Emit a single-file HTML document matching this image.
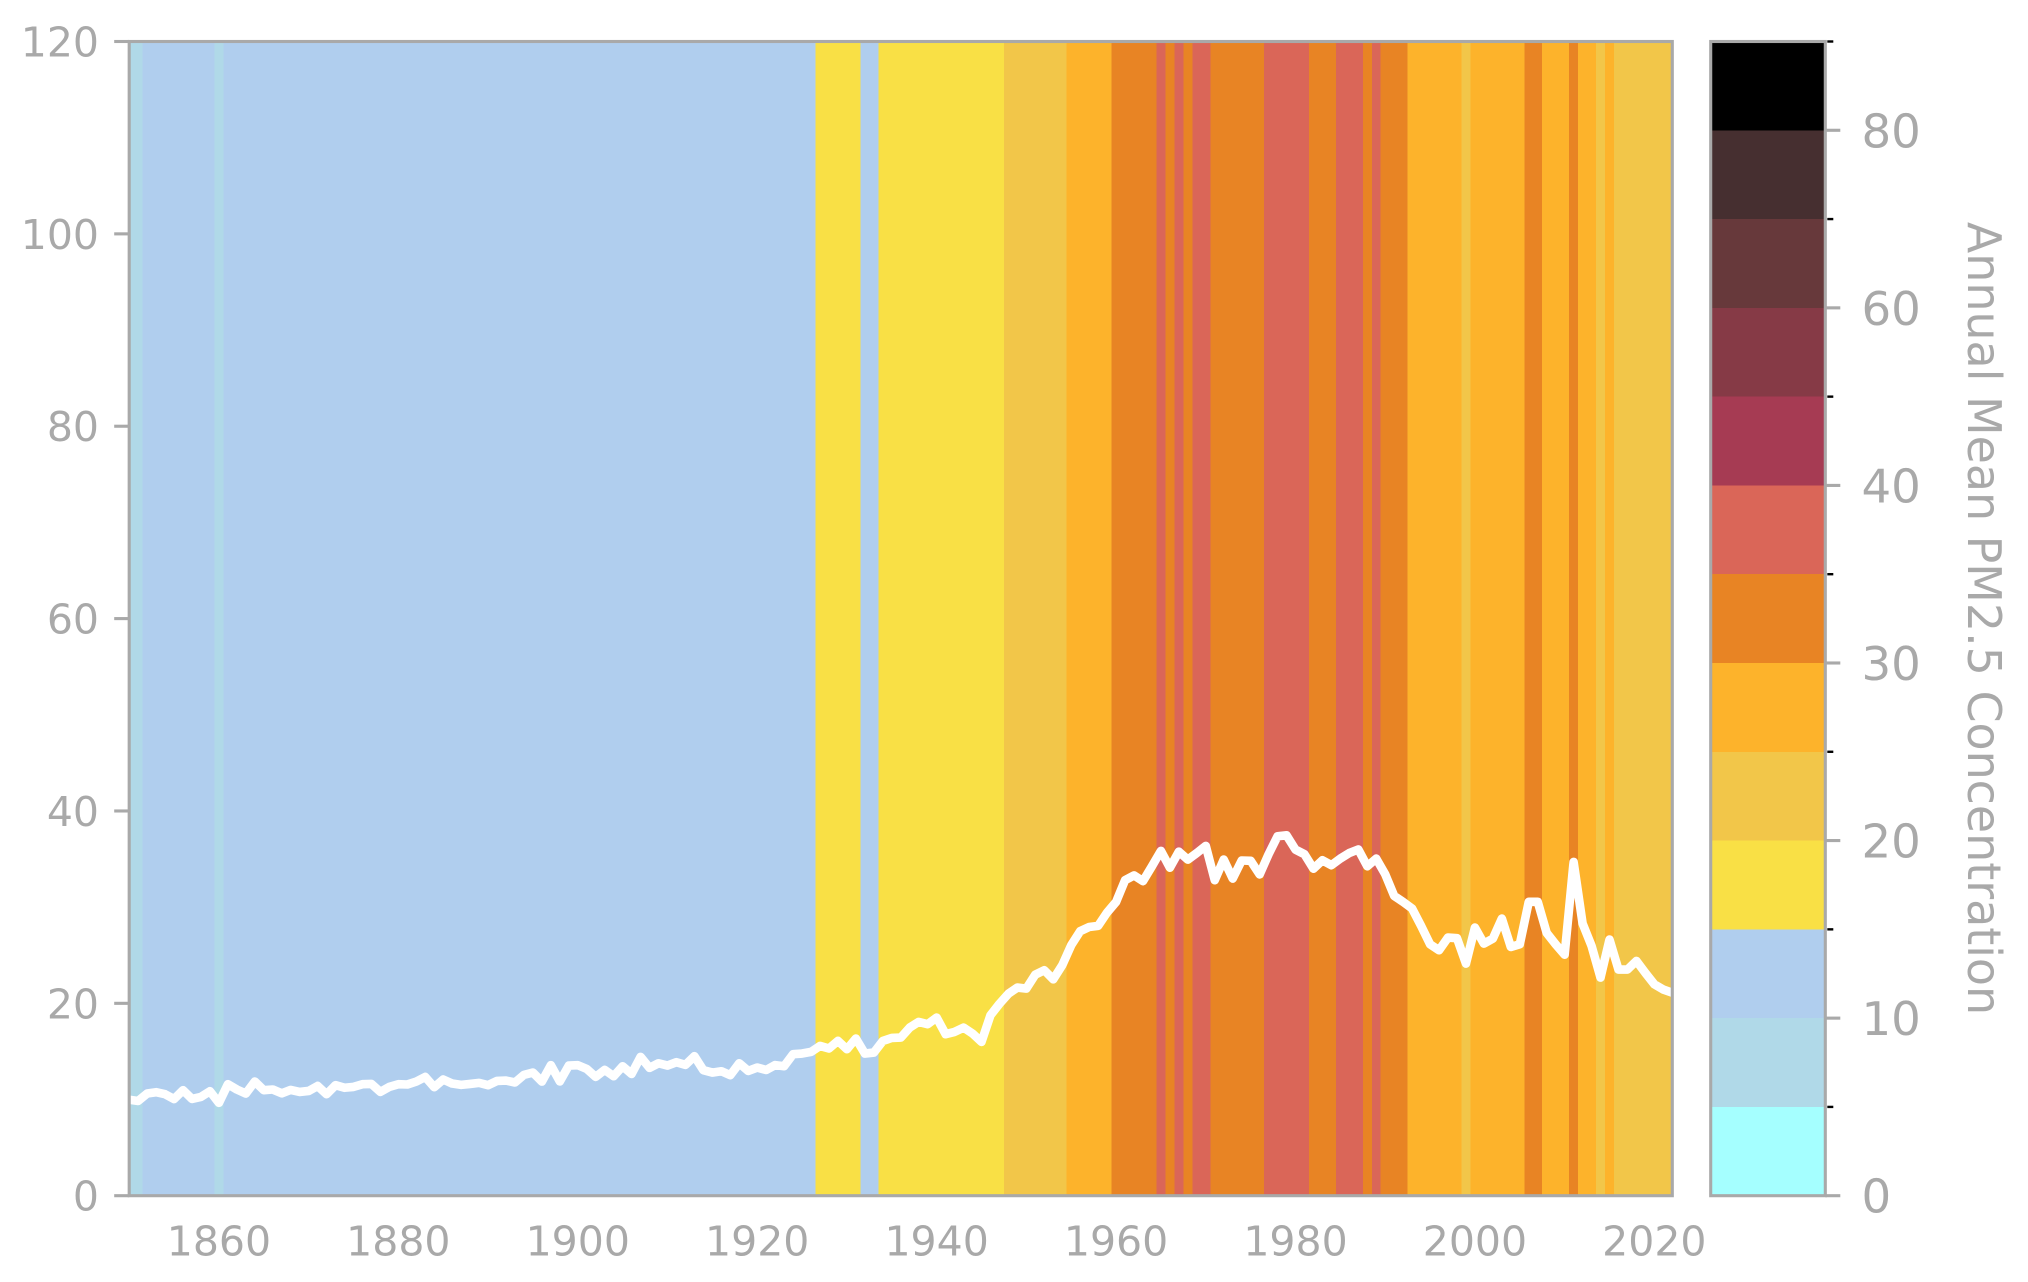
<!DOCTYPE html>
<html lang="en">
<head>
<meta charset="utf-8">
<title>Annual Mean PM2.5 Concentration warming-stripe chart</title>
<style>
html,body{margin:0;padding:0;background:#fff;}
svg{display:block;}
text{font-family:"DejaVu Sans","Liberation Sans",sans-serif;fill:#a9a9a9;}
</style>
</head>
<body>
<svg id="chart" xmlns="http://www.w3.org/2000/svg" width="2028" height="1282" viewBox="0 0 2028 1282">
  <defs>
    <clipPath id="plot-clip"><rect x="129.2" y="41.5" width="1543.1" height="1154.2"></rect></clipPath>
  </defs>
  <rect x="0" y="0" width="2028" height="1282" fill="#ffffff"></rect>
  <g id="bands" clip-path="url(#plot-clip)" shape-rendering="crispEdges"></g>
  <path id="pm25-line" clip-path="url(#plot-clip)" fill="none" stroke="#ffffff" stroke-width="8.6" stroke-linejoin="round"></path>
  <g id="left-axis"></g>
  <g id="colorbar"></g>
  <text transform="translate(1968,618.5) rotate(90)" text-anchor="middle" font-size="45.9">Annual Mean PM2.5 Concentration</text>
</svg>
<script>
const firstYear = 1850;
const pm25Values = [
  9.98,9.85,10.62,10.76,10.55,10.05,10.97,10.06,10.27,10.86,
  9.65,11.59,11.04,10.62,11.87,10.97,11.04,10.64,11.0,10.79,
  10.89,11.41,10.55,11.49,11.22,11.31,11.59,11.62,10.79,11.31,
  11.59,11.56,11.87,12.35,11.28,12.08,11.66,11.52,11.62,11.73,
  11.49,11.93,11.97,11.77,12.56,12.8,11.87,13.57,11.88,13.53,
  13.57,13.18,12.35,13.08,12.42,13.46,12.66,14.43,13.29,13.77,
  13.53,13.88,13.6,14.5,13.05,12.8,12.94,12.53,13.77,12.97,
  13.32,13.07,13.58,13.46,14.71,14.78,14.95,15.57,15.3,16.1,
  15.23,16.34,14.78,14.88,16.09,16.4,16.44,17.48,18.07,17.83,
  18.52,16.79,17.03,17.48,16.86,15.99,18.76,19.95,21.0,21.64,
  21.53,22.99,23.44,22.5,23.96,26.04,27.5,27.94,28.05,29.44,
  30.54,32.8,33.3,32.7,34.25,35.85,34.1,35.77,34.94,35.63,
  36.37,32.8,34.95,32.97,34.85,34.82,33.4,35.5,37.37,37.47,
  35.98,35.5,34.0,34.87,34.36,35.05,35.63,36.0,34.25,35.05,
  33.42,31.17,30.54,29.85,28.05,26.14,25.52,26.84,26.77,24.13,
  27.88,26.21,26.73,28.81,25.86,26.14,30.55,30.55,27.32,26.14,
  25.05,34.7,28.3,25.97,22.68,26.63,23.51,23.51,24.41,23.16,
  21.98,21.43,21.1
];
const xTickYears = [1860,1880,1900,1920,1940,1960,1980,2000,2020];
const yTickValues = [0,20,40,60,80,100,120];
const colorBoundaries = [0,5,10,15,20,25,30,35,40,50,60,70,80,90];
const colorBinFills = ["#a5ffff","#b0d9e8","#b0ceee","#f9e045","#f2c649","#fdb32b","#e88424","#da6658","#a63b53","#863a46","#67393b","#462f30","#000000"];
const colorbarMajorTicks = [0,10,20,30,40,60,80];
const colorbarMinorTicks = [5,15,25,35,50,70,90];

const SVG_NS = "http://www.w3.org/2000/svg";
const plot = {left:129.2, right:1672.3, top:41.5, bottom:1195.7, xMin:1850, xMax:2022, yMin:0, yMax:120};
const bar = {left:1710.7, right:1825.3, top:41.5, bottom:1195.7};
const GREY = "#a9a9a9";

function xScale(year){
  return plot.left + (year - plot.xMin) * (plot.right - plot.left) / (plot.xMax - plot.xMin);
}
function yScale(value){
  return plot.bottom - (value - plot.yMin) * (plot.bottom - plot.top) / (plot.yMax - plot.yMin);
}
function binIndex(value){
  for (let i = colorBoundaries.length - 2; i >= 0; i--) {
    if (value >= colorBoundaries[i]) return i;
  }
  return 0;
}
function barScale(value){
  const i = Math.min(binIndex(value), colorBoundaries.length - 2);
  const frac = (value - colorBoundaries[i]) / (colorBoundaries[i + 1] - colorBoundaries[i]);
  const step = (bar.bottom - bar.top) / (colorBoundaries.length - 1);
  return bar.bottom - (i + frac) * step;
}
function make(tag, attrs, parent){
  const el = document.createElementNS(SVG_NS, tag);
  for (const k in attrs) el.setAttribute(k, attrs[k]);
  parent.appendChild(el);
  return el;
}

const bandsGroup = document.getElementById("bands");
const axisGroup = document.getElementById("left-axis");
const barGroup = document.getElementById("colorbar");

pm25Values.forEach(function(v, i){
  const year = firstYear + i;
  const x0 = xScale(year - 0.5);
  const x1 = xScale(year + 0.5);
  const r = make("rect", {x:x0, y:plot.top, width:x1 - x0 + 0.5, height:plot.bottom - plot.top, fill:colorBinFills[binIndex(v)]}, bandsGroup);
  
  
});

document.getElementById("pm25-line").setAttribute("d",
  pm25Values.map(function(v, i){
    return (i ? "L" : "M") + xScale(firstYear + i).toFixed(2) + " " + yScale(v).toFixed(2);
  }).join(" ")
);

/* main axes */
const frame = make("rect", {x:plot.left, y:plot.top, width:plot.right - plot.left, height:plot.bottom - plot.top, fill:"none", stroke:GREY, "stroke-width":3.1}, axisGroup);



yTickValues.forEach(function(v){
  const y = yScale(v);
  const t = make("line", {x1:plot.left - 15, x2:plot.left, y1:y, y2:y, stroke:GREY, "stroke-width":3.1}, axisGroup);
  
  
  const l = make("text", {x:99, y:y + 15, "text-anchor":"end", "font-size":41}, axisGroup);
  l.textContent = String(v);
  
  
});
xTickYears.forEach(function(year){
  const l = make("text", {x:xScale(year), y:1255.5, "text-anchor":"middle", "font-size":41}, axisGroup);
  l.textContent = String(year);
  
  
});

/* colorbar */
colorBinFills.forEach(function(fill, i){
  const y1 = barScale(colorBoundaries[i]);
  const y0 = i === colorBinFills.length - 1 ? bar.top : barScale(colorBoundaries[i + 1]);
  const r = make("rect", {x:bar.left, y:y0, width:bar.right - bar.left, height:y1 - y0, fill:fill, "shape-rendering":"crispEdges"}, barGroup);
  
  
});
const barFrame = make("rect", {x:bar.left, y:bar.top, width:bar.right - bar.left, height:bar.bottom - bar.top, fill:"none", stroke:GREY, "stroke-width":3.1}, barGroup);



colorbarMinorTicks.forEach(function(v){
  const y = v === 90 ? bar.top : barScale(v);
  const t = make("line", {x1:bar.right + 2, x2:bar.right + 8, y1:y, y2:y, stroke:"#000000", "stroke-width":2.4}, barGroup);
  
  
});
colorbarMajorTicks.forEach(function(v){
  const y = barScale(v);
  const t = make("line", {x1:bar.right, x2:bar.right + 15, y1:y, y2:y, stroke:GREY, "stroke-width":3.1}, barGroup);
  
  
  const l = make("text", {x:1861.5, y:y + 17, "font-size":46.67}, barGroup);
  l.textContent = String(v);
  
  
});
</script>
</body>
</html>
